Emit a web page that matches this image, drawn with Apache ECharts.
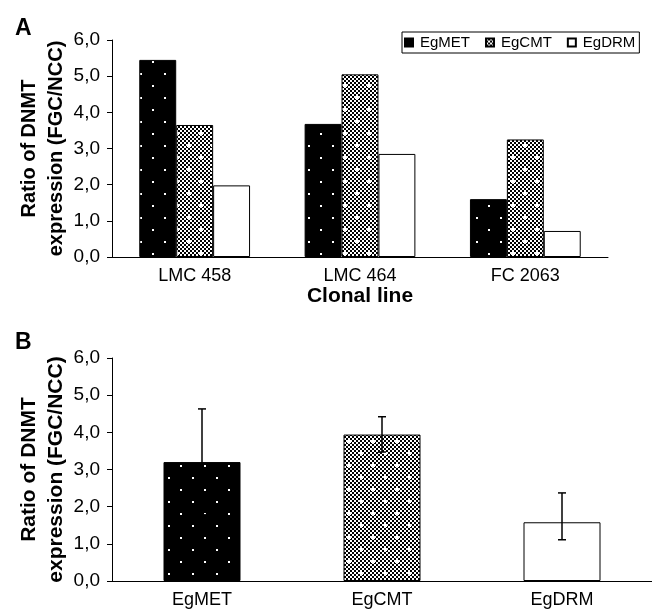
<!DOCTYPE html>
<html>
<head>
<meta charset="utf-8">
<script src="https://cdn.jsdelivr.net/npm/echarts@6/dist/echarts.min.js"></script>
<style>
html, body { margin: 0; padding: 0; background: #fff; }
#chart { width: 652px; height: 609px; }
</style>
</head>
<body>
<div id="chart"></div>
<script>
// panel A - DNMT expression ratio per clonal line
var clonalLines = ['LMC 458', 'LMC 464', 'FC 2063'];
var genes = ['EgMET', 'EgCMT', 'EgDRM'];
var metA = [5.45, 3.68, 1.6];
var cmtA = [3.65, 5.05, 3.25];
var drmA = [1.98, 2.85, 0.72];

// panel B - mean ratio with error bars
var meanB = [3.2, 3.94, 1.58];
var errLowB = [1.78, 3.47, 1.11];
var errHighB = [4.63, 4.42, 2.37];

// y axis ticks
var yMin = 0, yMax = 6, yStep = 1;

var FONT = '"Liberation Sans", Arial, sans-serif';

// black fill with white dots
function dotPattern(ox, oy) {
    var c = document.createElement('canvas');
    c.width = 24; c.height = 24;
    var g = c.getContext('2d');
    g.fillStyle = '#000';
    g.fillRect(0, 0, 24, 24);
    g.fillStyle = '#fff';
    g.fillRect(ox, oy, 2, 2);
    g.fillRect((ox + 12) % 24, (oy + 12) % 24, 2, 2);
    return { image: c, repeat: 'repeat' };
}

// fine checker with small white crosses
function checkPattern(ox, oy) {
    var c = document.createElement('canvas');
    c.width = 24; c.height = 24;
    var g = c.getContext('2d');
    g.fillStyle = '#fff';
    g.fillRect(0, 0, 24, 24);
    g.fillStyle = '#000';
    for (var y = 0; y < 24; y += 2) {
        for (var x = 0; x < 24; x += 2) {
            if (((x + y) / 2) % 2 === 0) g.fillRect(x, y, 2, 2);
        }
    }
    g.fillStyle = '#fff';
    [[ox, oy], [(ox + 12) % 24, (oy + 12) % 24]].forEach(function (p) {
        g.fillRect(p[0] - 1, p[1], 4, 2);
        g.fillRect(p[0], p[1] - 1, 2, 4);
    });
    return { image: c, repeat: 'repeat' };
}

var fillA = [dotPattern(8, 13), checkPattern(8, 13), '#fff'];
var fillB = [dotPattern(12, 9), checkPattern(12, 9), '#fff'];

function fmt(v) { return v.toFixed(1).replace('.', ','); }

function yAxisCfg(idx, nameSize) {
    return {
        gridIndex: idx, type: 'value', min: yMin, max: yMax, interval: yStep,
        axisLine: { show: true, lineStyle: { color: '#000', width: 1 } },
        axisTick: { show: true, length: 5, lineStyle: { color: '#000' } },
        splitLine: { show: false },
        axisLabel: { color: '#000', fontSize: 19, fontFamily: FONT, margin: 12, formatter: fmt },
        name: 'Ratio of DNMT\nexpression (FGC/NCC)',
        nameLocation: 'middle', nameRotate: 90, nameGap: 42, nameMoveOverlap: false,
        nameTextStyle: { color: '#000', fontSize: nameSize, fontWeight: 'bold', fontFamily: FONT, lineHeight: 27 }
    };
}

var chart = echarts.init(document.getElementById('chart'));

var option = {
    animation: false,
    backgroundColor: '#fff',
    title: [
        { text: 'A', left: 10, top: 12, textStyle: { fontSize: 23, fontWeight: 'bold', color: '#000', fontFamily: FONT } },
        { text: 'B', left: 10, top: 326, textStyle: { fontSize: 23, fontWeight: 'bold', color: '#000', fontFamily: FONT } }
    ],
    legend: {
        data: genes,
        left: 402, top: 32,
        itemWidth: 12, itemHeight: 8, itemGap: 15,
        icon: 'path://M0,0H10V10H0Z',
        padding: [3, 4, 3, 2],
        borderColor: '#000', borderWidth: 1,
        textStyle: { color: '#000', fontSize: 15, fontFamily: FONT }
    },
    grid: [
        { left: 112, top: 40, width: 496, height: 217 },
        { left: 112, top: 358, width: 560, height: 224 }
    ],
    xAxis: [
        {
            gridIndex: 0, type: 'category', data: clonalLines,
            axisLine: { lineStyle: { color: '#000', width: 1 } },
            axisTick: { length: 5, lineStyle: { color: '#000' } },
            axisLabel: { color: '#000', fontSize: 18, fontFamily: FONT, margin: 10 },
            name: 'Clonal line', nameLocation: 'middle', nameGap: 29,
            nameTextStyle: { color: '#000', fontSize: 21, fontWeight: 'bold', fontFamily: FONT }
        },
        {
            gridIndex: 1, type: 'category', data: genes,
            axisLine: { lineStyle: { color: '#000', width: 1 } },
            axisTick: { length: 5, lineStyle: { color: '#000' } },
            axisLabel: { color: '#000', fontSize: 18, fontFamily: FONT, margin: 10 }
        }
    ],
    yAxis: [yAxisCfg(0, 20), yAxisCfg(1, 21)],
    series: [
        {
            type: 'bar', name: 'EgMET', xAxisIndex: 0, yAxisIndex: 0, data: metA,
            barGap: '0%', barCategoryGap: '33%',
            itemStyle: { color: fillA[0], borderColor: '#000', borderWidth: 1 }
        },
        {
            type: 'bar', name: 'EgCMT', xAxisIndex: 0, yAxisIndex: 0, data: cmtA,
            barGap: '0%', barCategoryGap: '33%',
            itemStyle: { color: fillA[1], borderColor: '#000', borderWidth: 1 }
        },
        {
            type: 'bar', name: 'EgDRM', xAxisIndex: 0, yAxisIndex: 0, data: drmA,
            barGap: '0%', barCategoryGap: '33%',
            itemStyle: { color: fillA[2], borderColor: '#000', borderWidth: 1 }
        },
        {
            type: 'bar', name: 'mean', xAxisIndex: 1, yAxisIndex: 1, barWidth: 77,
            data: meanB.map(function (v, i) {
                return { value: v, itemStyle: { color: fillB[i], borderColor: '#000', borderWidth: 1 } };
            })
        },
        {
            type: 'custom', name: 'error', xAxisIndex: 1, yAxisIndex: 1, z: 10,
            encode: { x: 0, y: [1, 2] },
            data: genes.map(function (g, i) { return [i, errLowB[i], errHighB[i]]; }),
            renderItem: function (params, api) {
                var x = api.value(0);
                var lo = api.coord([x, api.value(1)]);
                var hi = api.coord([x, api.value(2)]);
                var w = 4;
                var st = { stroke: '#000', lineWidth: 1.5 };
                return {
                    type: 'group',
                    children: [
                        { type: 'line', shape: { x1: hi[0], y1: hi[1], x2: lo[0], y2: lo[1] }, style: st },
                        { type: 'line', shape: { x1: hi[0] - w, y1: hi[1], x2: hi[0] + w, y2: hi[1] }, style: st },
                        { type: 'line', shape: { x1: lo[0] - w, y1: lo[1], x2: lo[0] + w, y2: lo[1] }, style: st }
                    ]
                };
            }
        }
    ]
};

chart.setOption(option);
</script>
</body>
</html>
